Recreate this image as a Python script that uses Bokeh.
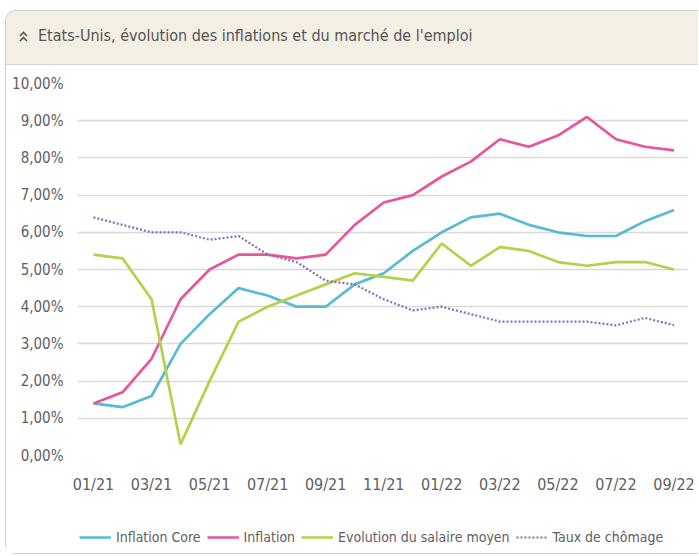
from bokeh.plotting import figure
from bokeh.models import ColumnDataSource, Legend, LegendItem, FixedTicker, Range1d, Div
from bokeh.layouts import column
from bokeh.embed import file_html
from bokeh.resources import INLINE

months = ["01/21", "02/21", "03/21", "04/21", "05/21", "06/21", "07/21", "08/21", "09/21", "10/21", "11/21", "12/21",
          "01/22", "02/22", "03/22", "04/22", "05/22", "06/22", "07/22", "08/22", "09/22"]
inflation_core = [1.4, 1.3, 1.6, 3.0, 3.8, 4.5, 4.3, 4.0, 4.0, 4.6, 4.9, 5.5, 6.0, 6.4, 6.5, 6.2, 6.0, 5.9, 5.9, 6.3, 6.6]
inflation = [1.4, 1.7, 2.6, 4.2, 5.0, 5.4, 5.4, 5.3, 5.4, 6.2, 6.8, 7.0, 7.5, 7.9, 8.5, 8.3, 8.6, 9.1, 8.5, 8.3, 8.2]
salaire = [5.4, 5.3, 4.2, 0.3, 2.0, 3.6, 4.0, 4.3, 4.6, 4.9, 4.8, 4.7, 5.7, 5.1, 5.6, 5.5, 5.2, 5.1, 5.2, 5.2, 5.0]
chomage = [6.4, 6.2, 6.0, 6.0, 5.8, 5.9, 5.4, 5.2, 4.7, 4.6, 4.2, 3.9, 4.0, 3.8, 3.6, 3.6, 3.6, 3.6, 3.5, 3.7, 3.5]
series_names = ["Inflation Core", "Inflation", "Evolution du salaire moyen", "Taux de chômage"]
y_ticks = [0, 1, 2, 3, 4, 5, 6, 7, 8, 9, 10]
title_text = "Etats-Unis, évolution des inflations et du marché de l'emploi"

FONT = "DejaVu Sans Condensed"
TXT = "#606060"
styles = [
    dict(line_color="#57bcd3", line_width=2.7),
    dict(line_color="#e8559a", line_width=2.7),
    dict(line_color="#b6d04a", line_width=2.7),
    dict(line_color="#8a6bbd", line_width=2.2, line_dash="2 2"),
]
cols = ["core", "infl", "sal", "cho"]

src = ColumnDataSource(dict(x=list(range(len(months))), core=inflation_core, infl=inflation,
                            sal=salaire, cho=chomage))

p = figure(width=692, height=435, output_backend="svg", toolbar_location=None,
           x_range=Range1d(-0.55, len(months) - 0.5), y_range=Range1d(0, 10),
           min_border_left=71, min_border_right=10, min_border_top=18, min_border_bottom=45,
           background_fill_color="white", border_fill_color="white")
p.outline_line_color = None
for c, st in zip(cols, styles):
    p.line("x", c, source=src, **st)

p.xaxis.ticker = FixedTicker(ticks=list(range(0, len(months), 2)))
p.xaxis.major_label_overrides = {i: m for i, m in enumerate(months)}
p.yaxis.ticker = FixedTicker(ticks=y_ticks)
p.yaxis.major_label_overrides = {v: f"{v},00%" for v in y_ticks}
for ax in (p.xaxis[0], p.yaxis[0]):
    ax.axis_line_color = None
    ax.major_tick_line_color = None
    ax.minor_tick_line_color = None
    ax.major_tick_out = 0
    ax.major_tick_in = 0
    ax.major_label_text_font = FONT
    ax.major_label_text_color = TXT
p.xaxis.major_label_text_font_size = "16px"
p.yaxis.major_label_text_font_size = "15px"
p.xaxis.major_label_standoff = 19
p.yaxis.major_label_standoff = 14
p.xgrid.grid_line_color = None
p.ygrid.grid_line_color = "#d9d9d9"
p.ygrid.grid_line_width = 1.5

# legend strip (same series, hidden renderers, legend only)
lg = figure(width=692, height=53, output_backend="svg", toolbar_location=None,
            x_range=Range1d(-0.55, len(months) - 0.5), y_range=Range1d(0, 10),
            x_axis_location=None, y_axis_location=None,
            min_border=0, background_fill_color="white", border_fill_color="white")
lg.outline_line_color = None
lg.grid.visible = False
items = []
for c, st, name in zip(cols, styles, series_names):
    r = lg.line("x", c, source=src, **st)
    r.visible = False
    items.append(LegendItem(label=name, renderers=[r]))
legend = Legend(items=items, orientation="horizontal", location=(2, 6), border_line_color=None,
                background_fill_alpha=0, label_text_font=FONT, label_text_font_size="14px",
                label_text_color=TXT, glyph_width=32, label_standoff=5, spacing=6, padding=0,
                margin=0, inactive_fill_alpha=0)
lg.add_layout(legend, "center")

icon = ('<svg width="9" height="11" style="vertical-align:middle;margin-right:10px">'
        '<polyline points="1,5 4.5,1.5 8,5" fill="none" stroke="#555" stroke-width="1.6"/>'
        '<polyline points="1,10 4.5,6.5 8,10" fill="none" stroke="#555" stroke-width="1.6"/></svg>')
header = Div(text=icon + title_text, width=692, height=54, margin=0,
             styles={"background-color": "#f3efe4", "border-bottom": "1px solid #d6d6d6",
                     "font-family": FONT, "font-size": "16px", "color": "#555555",
                     "line-height": "50px", "padding-left": "13px", "box-sizing": "border-box",
                     "border-top-left-radius": "10px"})

layout = column(header, p, lg, spacing=0,
                styles={"margin-left": "5px", "margin-top": "10px",
                        "border-left": "1px solid #cfcfcf", "border-top": "1px solid #cfcfcf",
                        "border-bottom": "1px solid #cfcfcf",
                        "border-top-left-radius": "11px", "border-bottom-left-radius": "11px"})

open("out.html", "w").write(file_html(layout, INLINE))
